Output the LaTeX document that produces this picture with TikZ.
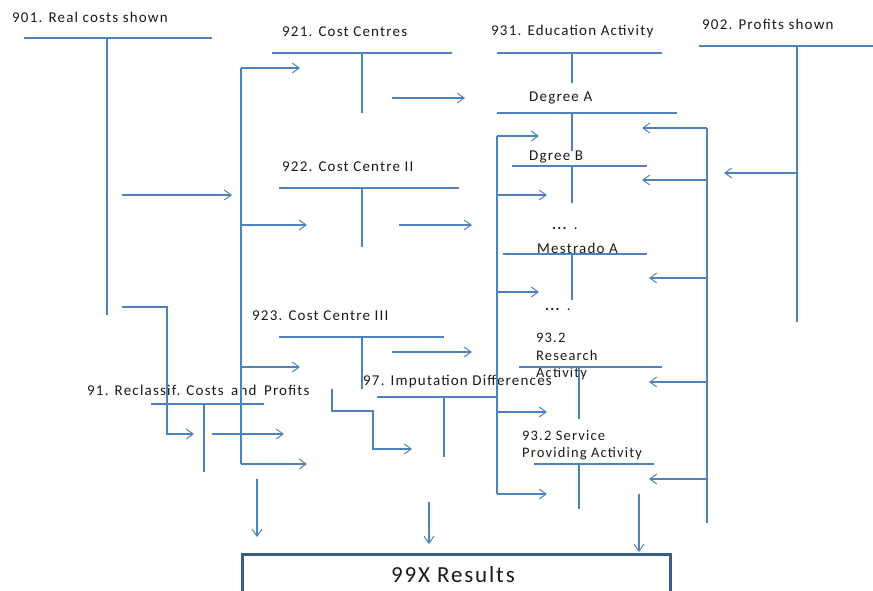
\documentclass[tikz,border=0pt]{standalone}
\usepackage{fontspec}
\setmainfont{Carlito}[LetterSpace=8]
\usetikzlibrary{arrows.meta}
\definecolor{lblue}{HTML}{4F81BD}
\definecolor{dblue}{HTML}{385D8A}
\definecolor{txt}{HTML}{1A1A1A}
\begin{document}
\begin{tikzpicture}[x=1pt,y=-1pt,
  ln/.style={draw=lblue,line width=1.1pt},
  arr/.style={ln,-{Straight Barb[length=7pt,width=10pt,line width=1pt]}},
  lbl/.style={anchor=west,inner sep=0,text=txt,font=\fontsize{15}{17}\selectfont},
  lblm/.style={anchor=north west,inner sep=0,text=txt,align=left,font=\fontsize{14.5}{17.5}\selectfont},
]
\useasboundingbox (0,0) rectangle (873,590);
\clip (0,0) rectangle (873,590);

% ---- labels
\node[lbl] (t901) at (12,17) {901. Real costs shown};
\node[lbl] (t921) at (282,32) {921. Cost Centres};
\node[lbl] (t931) at (491,31) {931. Education Activity};
\node[lbl] (t902) at (702,24) {902. Profits shown};
\node[lbl] (tdA) at (529,98) {Degree A};
\node[lbl] (tdB) at (529,157) {Dgree B};
\node[lbl] (t922) at (282,167) {922. Cost Centre II};
\node[lbl] (dots1) at (552,228) {\textbf{...} .};
\node[lbl] (tmA) at (537,248) {Mestrado A};
\node[lbl] (dots2) at (545,309) {\textbf{...} .};
\node[lbl] (t923) at (252,316) {923. Cost Centre III};
\node[lblm] (tres) at (536,333) {93.2\\Research\\Activity};
\node[lbl] (t91) at (87,390) {91. Reclassif. Costs\enspace and\enspace Profits};
\node[lbl] (t97) at (363,382) {97. Imputation Differences};
\node[lblm] (tserv) at (522,430) {93.2 Service\\Providing Activity};

% ---- T accounts
\draw[ln] (24,38) -- (212,38) (107,38) -- (107,315);          % 901
\draw[ln] (272,53) -- (452,53) (362,53) -- (362,113);         % 921
\draw[ln] (497,53) -- (662,53) (572,53) -- (572,83);          % 931
\draw[ln] (699,46) -- (873,46) (797,46) -- (797,322);         % 902
\draw[ln] (497,113) -- (677,113) (572,113) -- (572,151);      % Degree A
\draw[ln] (512,166) -- (647,166) (572,166) -- (572,203);      % Dgree B
\draw[ln] (279,188) -- (459,188) (362,188) -- (362,247);      % 922
\draw[ln] (503,254) -- (647,254) (572,254) -- (572,300);      % Mestrado A
\draw[ln] (279,337) -- (444,337) (362,337) -- (362,389);      % 923
\draw[ln] (519,367) -- (662,367) (579,367) -- (579,419);      % Research
\draw[ln] (377,397) -- (497,397) (444,397) -- (444,457);      % 97
\draw[ln] (534,464) -- (654,464) (579,464) -- (579,509);      % Service
\draw[ln] (151,404) -- (264,404) (204,404) -- (204,472);      % 91

% ---- distribution bus from 901
\draw[arr] (122,195) -- (232,195);
\draw[ln] (241,68) -- (241,464);
\draw[arr] (241,68) -- (300,68);
\draw[arr] (241,225) -- (307,225);
\draw[arr] (241,367) -- (300,367);
\draw[arr] (241,464) -- (307,464);

% ---- cost centres to activities
\draw[arr] (392,98) -- (465,98);
\draw[arr] (399,225) -- (472,225);
\draw[arr] (392,352) -- (472,352);

% ---- activity bus (left)
\draw[ln] (497,136) -- (497,494);
\draw[arr] (497,136) -- (539,136);
\draw[arr] (497,195) -- (547,195);
\draw[arr] (497,292) -- (539,292);
\draw[arr] (497,412) -- (547,412);
\draw[arr] (497,494) -- (547,494);

% ---- profits bus (right)
\draw[arr] (797,173) -- (724,173);
\draw[ln] (707,128) -- (707,523);
\draw[arr] (707,128) -- (642,128);
\draw[arr] (707,180) -- (642,180);
\draw[arr] (707,278) -- (649,278);
\draw[arr] (707,382) -- (649,382);
\draw[arr] (707,479) -- (649,479);

% ---- reclassification
\draw[arr] (122,307) -- (167,307) -- (167,434) -- (194,434);
\draw[arr] (212,434) -- (284,434);
\draw[arr] (332,389) -- (332,411) -- (373,411) -- (373,449) -- (412,449);

% ---- results
\node (res) [draw=dblue, line width=3pt, anchor=north west, minimum width=428pt, minimum height=60pt, inner sep=0] at (241,553) {};
\node[anchor=west,inner sep=0,text=txt,font=\fontsize{23}{25}\selectfont] (tres99) at (391,575) {99X Results};
\draw[arr] (257,479) -- (257,537);
\draw[arr] (429,502) -- (429,544);
\draw[arr] (639,494) -- (639,552);
\end{tikzpicture}
\end{document}
